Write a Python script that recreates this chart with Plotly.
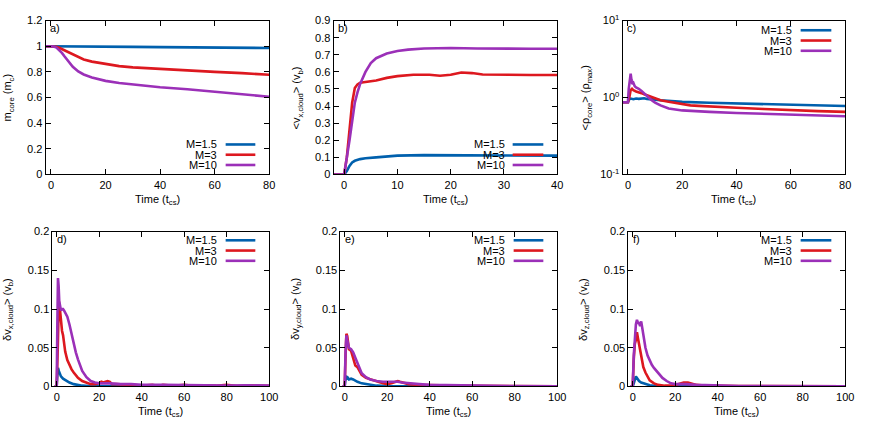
import plotly.graph_objects as go

W, H = 872, 436

# ---------------- data ----------------
# panel a: m_core
a_t15 = [-2, 0, 10, 20, 30, 40, 50, 60, 70, 80]
a_m15 = [1.0, 1.0, 0.999, 0.997, 0.995, 0.993, 0.991, 0.989, 0.987, 0.986]
a_t3 = [-2, 0, 1, 2, 3, 4, 5, 6, 7, 8, 10, 12, 15, 20, 25, 30, 40, 50, 60, 70, 80]
a_m3 = [1.0, 1.0, 1.0, 0.996, 0.988, 0.978, 0.965, 0.953, 0.942, 0.932, 0.912, 0.897, 0.88, 0.86, 0.845, 0.835, 0.822, 0.81, 0.80, 0.79, 0.778]
a_t10 = [-2, 0, 1, 2, 3, 4, 5, 6, 7, 8, 10, 12, 15, 20, 25, 30, 40, 50, 60, 70, 80]
a_m10 = [1.0, 1.0, 0.998, 0.99, 0.972, 0.948, 0.92, 0.89, 0.862, 0.84, 0.803, 0.78, 0.757, 0.73, 0.713, 0.70, 0.68, 0.664, 0.645, 0.627, 0.606]

# panel b: <v_x,cloud>
b_t15 = [-2, 0, 0.5, 1, 1.5, 2, 3, 4, 6, 8, 10, 15, 20, 25, 30, 35, 40]
b_v15 = [0, 0, 0.02, 0.05, 0.07, 0.08, 0.09, 0.095, 0.1, 0.106, 0.11, 0.113, 0.113, 0.113, 0.112, 0.112, 0.11]
b_t3 = [-2, 0, 0.5, 1, 1.5, 2, 2.5, 3, 4, 5, 6, 8, 10, 13, 16, 18, 20, 22, 24, 26, 30, 35, 40]
b_v3 = [0, 0, 0.1, 0.27, 0.42, 0.505, 0.527, 0.536, 0.54, 0.545, 0.55, 0.565, 0.575, 0.583, 0.583, 0.577, 0.583, 0.596, 0.593, 0.585, 0.582, 0.582, 0.582]
b_t10 = [-2, 0, 1, 1.5, 2, 2.5, 3, 4, 5, 6, 7, 8, 10, 12, 15, 20, 25, 30, 35, 40]
b_v10 = [0, 0, 0.2, 0.32, 0.42, 0.48, 0.53, 0.6, 0.652, 0.68, 0.695, 0.707, 0.722, 0.73, 0.737, 0.74, 0.737, 0.734, 0.735, 0.735]

# panel c: <rho_core>
c_t15 = [-2, 0, 0.5, 1, 2, 3, 4, 5, 6, 7, 8, 10, 12, 15, 20, 30, 40, 50, 60, 70, 80]
c_r15 = [0.87, 0.87, 0.95, 0.97, 0.95, 0.97, 0.96, 0.975, 0.98, 0.96, 0.96, 0.94, 0.92, 0.9, 0.877, 0.855, 0.837, 0.822, 0.81, 0.792, 0.775]
c_t3 = [-2, 0, 0.5, 1, 1.5, 2, 3, 4, 5, 6, 8, 10, 12, 15, 18, 20, 23, 26, 30, 40, 50, 60, 70, 80]
c_r3 = [0.87, 0.87, 1.0, 1.25, 1.3, 1.25, 1.2, 1.18, 1.14, 1.1, 1.03, 0.96, 0.92, 0.88, 0.84, 0.82, 0.79, 0.78, 0.765, 0.738, 0.71, 0.683, 0.665, 0.65]
c_t10 = [-2, 0, 0.3, 0.7, 1, 1.3, 1.6, 2, 2.5, 3, 4, 5, 6, 7, 8, 9, 10, 12, 15, 20, 25, 30, 40, 50, 60, 70, 80]
c_r10 = [0.87, 0.87, 1.3, 1.9, 2.05, 1.7, 1.5, 1.55, 1.4, 1.35, 1.3, 1.22, 1.12, 1.04, 0.97, 0.91, 0.86, 0.79, 0.72, 0.68, 0.66, 0.65, 0.63, 0.615, 0.597, 0.585, 0.57]

# panel d: delta v_x,cloud
d_t15 = [-1, 0, 0.3, 0.6, 1, 1.5, 2, 3, 4, 5, 6, 8, 10, 12, 15, 20, 100]
d_v15 = [0, 0, 0.015, 0.024, 0.02, 0.016, 0.013, 0.01, 0.008, 0.006, 0.005, 0.003, 0.002, 0.001, 0.0005, 0.0002, 0.0001]
d_t3 = [-1, 0, 0.5, 1, 1.5, 2, 2.5, 3, 3.5, 4, 5, 6, 7, 8, 10, 12, 14, 16, 18, 20, 21, 22, 23, 24, 25, 26, 28, 35, 40,
        45, 48, 50, 55, 60, 65, 70, 75, 80, 85, 90, 95, 100]
d_v3 = [0, 0, 0.05, 0.11, 0.1, 0.085, 0.072, 0.066, 0.055, 0.045, 0.034, 0.027, 0.022, 0.018, 0.011, 0.007, 0.005, 0.003, 0.003, 0.004, 0.006, 0.005, 0.006, 0.007, 0.006, 0.003, 0.003, 0.002, 0.001,
        0.002, 0.0005, 0.002, 0.001, 0.002, 0.0005, 0.0015, 0.001, 0.002, 0.0005, 0.0015, 0.001, 0.0008]
d_t10 = [-1, 0, 0.3, 0.6, 0.9, 1.2, 1.6, 2, 2.5, 3, 3.5, 4, 5, 6, 7, 8, 9, 10, 11, 12, 14, 16, 18, 20, 25, 30, 35, 40, 50, 60, 70, 80, 90, 100]
d_v10 = [0, 0, 0.08, 0.14, 0.13, 0.11, 0.1, 0.098, 0.1, 0.1, 0.098, 0.095, 0.09, 0.08, 0.067, 0.055, 0.044, 0.035, 0.027, 0.02, 0.012, 0.007, 0.005, 0.004, 0.004, 0.003, 0.003, 0.002, 0.002, 0.0015, 0.001, 0.001, 0.0015, 0.001]

# panel e: delta v_y,cloud
e_t15 = [-1, 0, 0.3, 0.6, 1, 1.5, 2, 3, 4, 5, 6, 8, 10, 12, 15, 20, 30, 100]
e_v15 = [0, 0, 0.008, 0.014, 0.01, 0.011, 0.009, 0.01, 0.009, 0.007, 0.006, 0.004, 0.003, 0.002, 0.001, 0.0005, 0.0002, 0.0001]
e_t3 = [-1, 0, 0.4, 0.8, 1.2, 1.6, 2, 3, 4, 5, 6, 7, 8, 10, 12, 15, 18, 20, 22, 24, 25, 26, 28, 30, 35, 40, 50, 60, 70, 80, 100]
e_v3 = [0, 0, 0.04, 0.068, 0.065, 0.05, 0.048, 0.046, 0.035, 0.027, 0.025, 0.019, 0.015, 0.011, 0.009, 0.006, 0.004, 0.003, 0.004, 0.006, 0.007, 0.006, 0.004, 0.003, 0.002, 0.0015, 0.001, 0.0008, 0.0005, 0.0003, 0.0002]
e_t10 = [-1, 0, 0.4, 0.8, 1.2, 1.6, 2, 3, 4, 5, 6, 7, 8, 10, 12, 15, 18, 22, 25, 27, 30, 35, 40, 50, 60, 70, 100]
e_v10 = [0, 0, 0.045, 0.066, 0.06, 0.052, 0.05, 0.048, 0.044, 0.037, 0.03, 0.024, 0.017, 0.012, 0.009, 0.007, 0.006, 0.006, 0.006, 0.005, 0.004, 0.003, 0.002, 0.0015, 0.001, 0.0007, 0.0003]

# panel f: delta v_z,cloud
f_t15 = [-1, 0, 0.5, 1, 1.5, 2, 2.5, 3, 4, 5, 6, 8, 10, 15, 100]
f_v15 = [0, 0, 0.004, 0.009, 0.013, 0.011, 0.009, 0.007, 0.005, 0.004, 0.003, 0.0015, 0.001, 0.0003, 0.0001]
f_t3 = [-1, 0, 0.5, 1, 1.5, 2, 2.5, 3, 3.5, 4, 5, 6, 7, 8, 10, 12, 15, 18, 20, 22, 24, 26, 28, 30, 35, 40, 50, 100]
f_v3 = [0, 0, 0.035, 0.055, 0.06, 0.07, 0.062, 0.055, 0.047, 0.04, 0.025, 0.018, 0.012, 0.008, 0.004, 0.002, 0.001, 0.001, 0.002, 0.004, 0.005, 0.005, 0.004, 0.002, 0.001, 0.0008, 0.0004, 0.0002]
f_t10 = [-1, 0, 0.5, 1, 1.5, 2, 2.5, 3, 3.5, 4, 4.5, 5, 6, 7, 8, 9, 10, 12, 14, 16, 18, 20, 25, 30, 40, 50, 100]
f_v10 = [0, 0, 0.04, 0.06, 0.08, 0.086, 0.082, 0.082, 0.078, 0.084, 0.075, 0.063, 0.05, 0.04, 0.033, 0.028, 0.024, 0.017, 0.011, 0.007, 0.004, 0.003, 0.003, 0.002, 0.001, 0.0005, 0.0002]

series_names = ["M=1.5", "M=3", "M=10"]
colors = ["#0060ad", "#dd181f", "#9b30b8"]
panel_labels = ["a)", "b)", "c)", "d)", "e)", "f)"]

panels = [
    [(a_t15, a_m15), (a_t3, a_m3), (a_t10, a_m10)],
    [(b_t15, b_v15), (b_t3, b_v3), (b_t10, b_v10)],
    [(c_t15, c_r15), (c_t3, c_r3), (c_t10, c_r10)],
    [(d_t15, d_v15), (d_t3, d_v3), (d_t10, d_v10)],
    [(e_t15, e_v15), (e_t3, e_v3), (e_t10, e_v10)],
    [(f_t15, f_v15), (f_t3, f_v3), (f_t10, f_v10)],
]

ytitles = [
    "m<sub>core</sub> (m<sub>c</sub>)",
    "&lt;v<sub>x,cloud</sub>&gt; (v<sub>b</sub>)",
    "&lt;ρ<sub>core</sub>&gt; (ρ<sub>max</sub>)",
    "δv<sub>x,cloud</sub>&gt; (v<sub>b</sub>)",
    "δv<sub>y,cloud</sub>&gt; (v<sub>b</sub>)",
    "δv<sub>z,cloud</sub>&gt; (v<sub>b</sub>)",
]
xtitle = "Time (t<sub>cs</sub>)"

# ---------------- layout geometry (pixels) ----------------
boxes = [  # left, right, top, bottom
    (46, 272, 13, 172),
    (337, 563, 13, 172),
    (629, 854, 13, 172),
    (53, 272, 231, 391),
    (344, 563, 231, 391),
    (635, 854, 231, 391),
]
xranges = [[-2, 80], [-2, 40], [-2, 80], [-2, 100], [-2, 100], [-2, 100]]
xdticks = [20, 10, 20, 20, 20, 20]
yranges = [[0, 1.2], [0, 0.9], [-1, 1], [0, 0.2], [0, 0.2], [0, 0.2]]
ydticks = [0.2, 0.1, None, 0.05, 0.05, 0.05]
ytitle_x = [8, 300, 592, 8, 299, 590]
legend_top = [141, 141, 23, 240, 240, 240]
legend_text_right = [221.5, 512.5, 802.5, 221.5, 512.5, 802.5]
legend_line = [(228, 258), (518, 549), (809, 840), (228, 258), (519, 549), (809, 840)]
row_step = 10.6

FONT = "Liberation Sans"
FS = 11

fig = go.Figure()
layout = dict(
    width=W, height=H,
    margin=dict(l=0, r=0, t=0, b=0),
    paper_bgcolor="white", plot_bgcolor="white",
    showlegend=False,
    font=dict(family=FONT, size=FS, color="black"),
)
annotations = []
shapes = []

def px(x):
    return x / W

def py(y):
    return 1 - y / H

for i, (series, box) in enumerate(zip(panels, boxes)):
    n = "" if i == 0 else str(i + 1)
    xa, ya = "x" + n, "y" + n
    for (t, v), name, col in zip(series, series_names, colors):
        fig.add_trace(go.Scatter(x=t, y=v, mode="lines", name=name,
                                 line=dict(color=col, width=2.6),
                                 xaxis=xa, yaxis=ya))
    l, r, tp, bt = box
    common = dict(showline=True, linecolor="black", linewidth=1, mirror="allticks",
                  ticks="inside", ticklen=5, tickwidth=1, tickcolor="black",
                  showgrid=False, zeroline=False,
                  tickfont=dict(family=FONT, size=FS, color="black"))
    xax = dict(domain=[px(l), px(r)], range=xranges[i], anchor=ya,
               tick0=0, dtick=xdticks[i], **common)
    if i == 2:
        yax = dict(domain=[py(bt), py(tp)], type="log", range=yranges[i], anchor=xa,
                   tickvals=[0.1, 1, 10],
                   ticktext=["10<sup>-1</sup>", "10<sup>0</sup>", "10<sup>1</sup>"],
                   **common)
    else:
        yax = dict(domain=[py(bt), py(tp)], range=yranges[i], anchor=xa,
                   tick0=0, dtick=ydticks[i], **common)
    layout["xaxis" + n] = xax
    layout["yaxis" + n] = yax

    # panel label
    annotations.append(dict(text=panel_labels[i], x=px(l + 3), y=py(tp + 8),
                            xref="paper", yref="paper", xanchor="left", yanchor="middle",
                            showarrow=False, font=dict(family=FONT, size=FS)))
    # x title
    annotations.append(dict(text=xtitle, x=px((l + r) / 2), y=py(bt + 26),
                            xref="paper", yref="paper", xanchor="center", yanchor="middle",
                            showarrow=False, font=dict(family=FONT, size=FS)))
    # y title
    annotations.append(dict(text=ytitles[i], x=px(ytitle_x[i]), y=py((tp + bt) / 2),
                            xref="paper", yref="paper", xanchor="center", yanchor="middle",
                            textangle=-90, showarrow=False, font=dict(family=FONT, size=FS)))
    # legend (gnuplot style: text then sample line)
    for k, (name, col) in enumerate(zip(series_names, colors)):
        yy = legend_top[i] + k * row_step
        annotations.append(dict(text=name, x=px(legend_text_right[i]), y=py(yy),
                                xref="paper", yref="paper", xanchor="right", yanchor="middle",
                                showarrow=False, font=dict(family=FONT, size=FS)))
        x0, x1 = legend_line[i]
        shapes.append(dict(type="line", xref="paper", yref="paper",
                           x0=px(x0), x1=px(x1), y0=py(yy), y1=py(yy),
                           line=dict(color=col, width=2.6)))

layout["annotations"] = annotations
layout["shapes"] = shapes
fig.update_layout(**layout)
fig.write_html("out.html",
               config={"displayModeBar": False, "staticPlot": True},
               post_script="document.body.style.margin='0';document.body.style.padding='0';")
